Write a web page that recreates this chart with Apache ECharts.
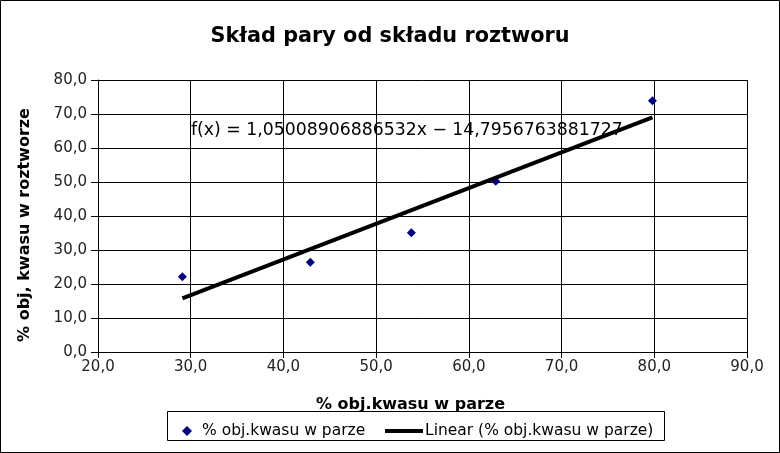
<!DOCTYPE html>
<html>
<head>
<meta charset="utf-8">
<script src="https://cdn.jsdelivr.net/npm/echarts@6/dist/echarts.min.js"></script>
<style>
html,body{margin:0;padding:0;background:#fff;}
#chart{width:780px;height:453px;}
</style>
</head>
<body>
<div id="chart"></div>
<script>
// Data
var xValues = [29.1, 42.9, 53.8, 62.9, 79.8];
var yValues = [22.1, 26.4, 35.1, 50.2, 73.9];
var trendSlope = 1.05008906886532;
var trendIntercept = -14.7956763881727;
var equationText = 'f(x) = 1,05008906886532x \u2212 14,7956763881727';
var titleText = 'Skład pary od składu roztworu';
var xAxisName = '% obj.kwasu w parze';
var yAxisName = '% obj, kwasu w roztworze';
var seriesName = '% obj.kwasu w parze';
var trendName = 'Linear (% obj.kwasu w parze)';

var points = xValues.map(function (x, i) { return [x, yValues[i]]; });
var xMinData = Math.min.apply(null, xValues);
var xMaxData = Math.max.apply(null, xValues);
var trendData = [
  [xMinData, trendSlope * xMinData + trendIntercept],
  [xMaxData, trendSlope * xMaxData + trendIntercept]
];

function fmt(v) { return v.toFixed(1).replace('.', ','); }

var FONT = 'DejaVu Sans';
var chart = echarts.init(document.getElementById('chart'), null, {renderer: 'canvas'});
chart.setOption({
  animation: false,
  backgroundColor: '#fff',
  title: {
    text: titleText,
    left: 'center',
    top: 21,
    textStyle: {fontFamily: FONT, fontSize: 20.8, fontWeight: 'bold', color: '#000'}
  },
  grid: {left: 98, top: 80, right: 33, bottom: 101},
  xAxis: {
    type: 'value', min: 20, max: 90, interval: 10,
    name: xAxisName, nameLocation: 'middle', nameGap: 45,
    nameTextStyle: {fontFamily: FONT, fontSize: 16, fontWeight: 'bold', color: '#000', padding: [0, 24, 0, 0]},
    axisLine: {show: true, onZero: false, lineStyle: {color: '#000', width: 1}},
    axisTick: {show: true, length: 6, lineStyle: {color: '#000'}},
    axisLabel: {fontFamily: FONT, fontSize: 15, color: '#222', margin: 8, formatter: fmt},
    splitLine: {show: true, lineStyle: {color: '#000', width: 1}}
  },
  yAxis: {
    type: 'value', min: 0, max: 80, interval: 10,
    name: yAxisName, nameLocation: 'middle', nameGap: 65, nameRotate: 90,
    nameTextStyle: {fontFamily: FONT, fontSize: 16, fontWeight: 'bold', color: '#000', padding: [0, 18, 0, 0]},
    axisLine: {show: true, onZero: false, lineStyle: {color: '#000', width: 1}},
    axisTick: {show: true, length: 7, lineStyle: {color: '#000'}},
    axisLabel: {fontFamily: FONT, fontSize: 15, color: '#222', margin: 11, formatter: fmt},
    splitLine: {show: true, lineStyle: {color: '#000', width: 1}}
  },
  legend: [
    {
      data: [{name: seriesName, icon: 'diamond'}],
      left: 177, top: 418,
      itemWidth: 10, itemHeight: 10,
      textStyle: {fontFamily: FONT, fontSize: 15.5, color: '#000', padding: [0, 0, 0, 5]},
      selectedMode: false
    },
    {
      data: [{name: trendName, icon: 'rect'}],
      left: 380, top: 418,
      itemWidth: 38, itemHeight: 4, itemGap: 0,
      textStyle: {fontFamily: FONT, fontSize: 15.5, color: '#000', padding: [0, 0, 0, -3]},
      selectedMode: false
    }
  ],
  graphic: [
    {type: 'rect', shape: {x: 0.5, y: 0.5, width: 779, height: 452}, style: {fill: null, stroke: '#000', lineWidth: 1}, silent: true, z: 100},
    {type: 'rect', shape: {x: 167.5, y: 411.5, width: 497, height: 29}, style: {fill: null, stroke: '#000', lineWidth: 1}, silent: true, z: 100},
    {type: 'text', left: 191, top: 122, style: {text: equationText, font: '17.3px "DejaVu Sans"', fill: '#000'}, z: 100}
  ],
  series: [
    {
      name: seriesName, type: 'scatter', data: points,
      symbol: 'diamond', symbolSize: 9,
      itemStyle: {color: '#000080', opacity: 1}, z: 3
    },
    {
      name: trendName, type: 'line', data: trendData,
      symbol: 'none', showSymbol: false,
      lineStyle: {color: '#000', width: 4},
      itemStyle: {color: '#000'}, z: 4
    }
  ]
});
</script>
</body>
</html>
